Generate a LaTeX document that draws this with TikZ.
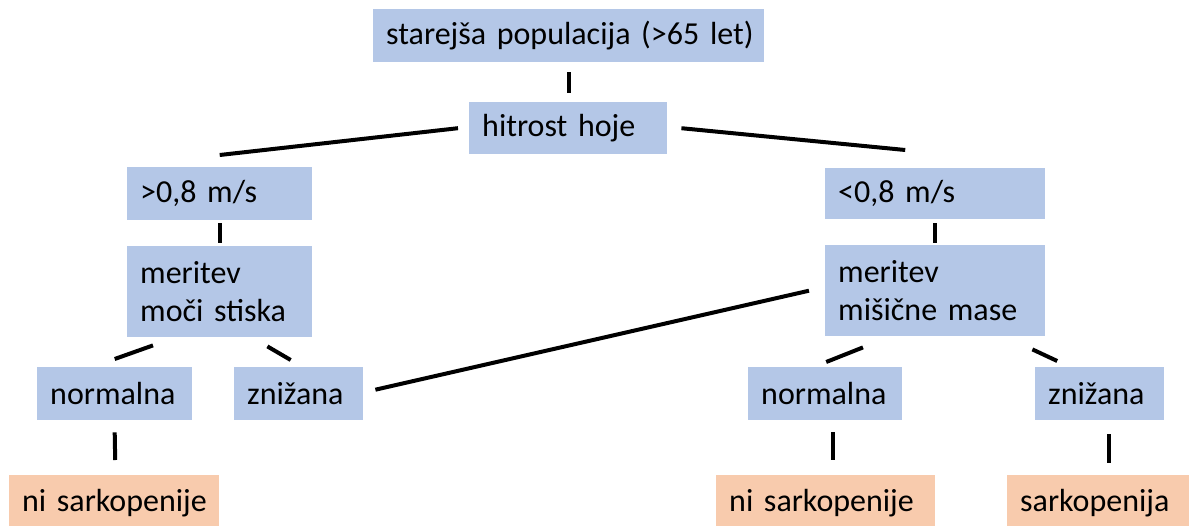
\documentclass[tikz,border=0pt]{standalone}
\usepackage{fontspec}
\setmainfont{Carlito}
\usetikzlibrary{calc}
\definecolor{boxblue}{HTML}{B4C7E7}
\definecolor{boxorange}{HTML}{F8CBAD}
\tikzset{
  bbox/.style={anchor=north west, fill=boxblue, draw=none, inner xsep=13pt, inner ysep=0pt,
    align=left, font=\fontsize{32}{38}\selectfont, text=black},
  obox/.style={bbox, fill=boxorange},
  conn/.style={line width=4pt, draw=black}
}
\begin{document}
\begin{tikzpicture}[x=1pt,y=-1pt]
\useasboundingbox (0,0) rectangle (1189,525);
\node[bbox, minimum height=53pt, text width=365pt] (top) at (373,9) {\mbox{starejša populacija (>65 let)}};
\node[bbox, minimum height=52pt, text width=172pt] (hitrost) at (469,102) {\mbox{hitrost hoje}};
\node[bbox, minimum height=53pt, text width=159pt] (gt) at (127,167) {\mbox{>0,8 m/s}};
\node[bbox, minimum height=51pt, text width=194pt] (lt) at (825,168) {\mbox{<0,8 m/s}};
\node[bbox, minimum height=91pt, text width=159pt] (merL) at (127,246) {\mbox{meritev}\\\mbox{moči stiska}};
\node[bbox, minimum height=91pt, text width=194pt] (merR) at (825,245) {\mbox{meritev}\\\mbox{mišične mase}};
\node[bbox, minimum height=53pt, text width=129pt] (normL) at (37,367) {\mbox{normalna}};
\node[bbox, minimum height=53pt, text width=103pt] (znizL) at (234,367) {\mbox{znižana}};
\node[bbox, minimum height=53pt, text width=128pt] (normR) at (748,367) {\mbox{normalna}};
\node[bbox, minimum height=53pt, text width=103pt] (znizR) at (1035,367) {\mbox{znižana}};
\node[obox, minimum height=56pt, text width=184pt] (niL) at (9,475) {\mbox{ni sarkopenije}};
\node[obox, minimum height=56pt, text width=193pt] (niR) at (716,475) {\mbox{ni sarkopenije}};
\node[obox, minimum height=56pt, text width=156pt] (sark) at (1007,475) {\mbox{sarkopenija}};

\draw[conn, shorten <=10pt, shorten >=9pt] (top.south) -- (top.south |- hitrost.north);
\draw[conn] ($(hitrost.west)+(-11,0)$) -- ($(gt.north)+(0,-12)$);
\draw[conn] ($(hitrost.east)+(14,0)$) -- ($(lt.north)+(-30,-18)$);
\draw[conn] ($(gt.south)+(0,3)$) -- ($(merL.north)+(0,-3)$);
\draw[conn] ($(lt.south)+(0,4)$) -- ($(merR.north)+(0,-2)$);
\draw[conn] ($(merL.south west)+(26,8)$) -- ($(normL.north)+(0,-8)$);
\draw[conn] ($(merL.south east)+(-45,9)$) -- ($(znizL.north)+(-8,-7)$);
\draw[conn] ($(merR.west)+(-16,0)$) -- ($(znizL.east)+(12,-4)$);
\draw[conn] ($(merR.south west)+(38,11)$) -- ($(normR.north)+(1,-5)$);
\draw[conn] ($(merR.south east)+(-13,13)$) -- ($(znizR.north)+(-42.5,-6)$);
\draw[conn] ($(normL.south)+(0,12)$) -- ($(niL.north)+(1,-15)$);
\draw[conn] ($(normR.south)+(8,12)$) -- ($(niR.north)+(7.5,-15)$);
\draw[conn] ($(znizR.south)+(9.5,14)$) -- ($(sark.north)+(11,-12)$);
\end{tikzpicture}
\end{document}
